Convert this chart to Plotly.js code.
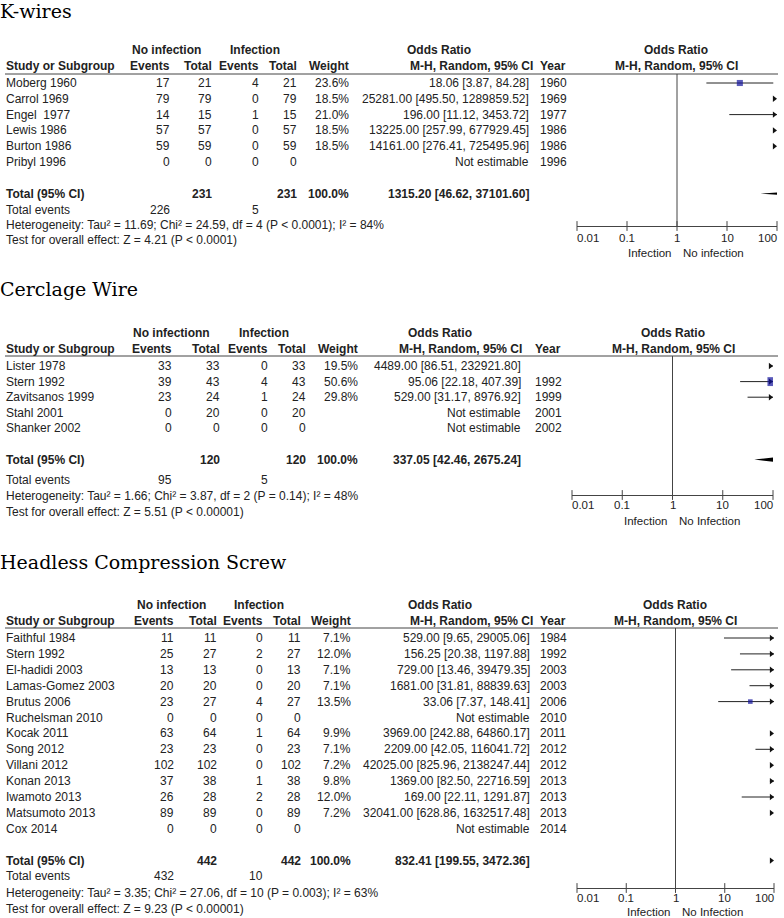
<!DOCTYPE html>
<html><head><meta charset="utf-8">
<script src="https://cdn.plot.ly/plotly-3.0.1.min.js"></script>
<style>html,body{margin:0;padding:0;background:#fff;}#chart{width:784px;height:918px;}</style>
</head><body><div id="chart"></div>
<script>
// ================= DATA =================
// --- K-wires ---
const kStudy  = ['Moberg 1960','Carrol 1969','Engel\u00a0 1977','Lewis 1986','Burton 1986','Pribyl 1996'];
const kEvNo   = [17,79,14,57,59,0];
const kTotNo  = [21,79,15,57,59,0];
const kEvInf  = [4,0,1,0,0,0];
const kTotInf = [21,79,15,57,59,0];
const kWeight = [23.6,18.5,21.0,18.5,18.5,null];
const kOR     = [18.06,25281.00,196.00,13225.00,14161.00,null];
const kLo     = [3.87,495.50,11.12,257.99,276.41,null];
const kHi     = [84.28,1289859.52,3453.72,677929.45,725495.96,null];
const kYear   = ['1960','1969','1977','1986','1986','1996'];
const kTotals = [231,231];           // total No infection, total Infection
const kTotalOR = [1315.20,46.62,37101.60];
const kTotalEvents = [226,5];
const kHet  = 'Heterogeneity: Tau\u00b2 = 11.69; Chi\u00b2 = 24.59, df = 4 (P < 0.0001); I\u00b2 = 84%';
const kTest = 'Test for overall effect: Z = 4.21 (P < 0.0001)';

// --- Cerclage Wire ---
const cStudy  = ['Lister 1978','Stern 1992','Zavitsanos 1999','Stahl 2001','Shanker 2002'];
const cEvNo   = [33,39,23,0,0];
const cTotNo  = [33,43,24,20,0];
const cEvInf  = [0,4,1,0,0];
const cTotInf = [33,43,24,20,0];
const cWeight = [19.5,50.6,29.8,null,null];
const cOR     = [4489.00,95.06,529.00,null,null];
const cLo     = [86.51,22.18,31.17,null,null];
const cHi     = [232921.80,407.39,8976.92,null,null];
const cYear   = ['','1992','1999','2001','2002'];
const cTotals = [120,120];
const cTotalOR = [337.05,42.46,2675.24];
const cTotalEvents = [95,5];
const cHet  = 'Heterogeneity: Tau\u00b2 = 1.66; Chi\u00b2 = 3.87, df = 2 (P = 0.14); I\u00b2 = 48%';
const cTest = 'Test for overall effect: Z = 5.51 (P < 0.00001)';

// --- Headless Compression Screw ---
const hStudy  = ['Faithful 1984','Stern 1992','El-hadidi 2003','Lamas-Gomez 2003','Brutus 2006','Ruchelsman 2010','Kocak 2011','Song 2012','Villani 2012','Konan 2013','Iwamoto 2013','Matsumoto 2013','Cox 2014'];
const hEvNo   = [11,25,13,20,23,0,63,23,102,37,26,89,0];
const hTotNo  = [11,27,13,20,27,0,64,23,102,38,28,89,0];
const hEvInf  = [0,2,0,0,4,0,1,0,0,1,2,0,0];
const hTotInf = [11,27,13,20,27,0,64,23,102,38,28,89,0];
const hWeight = [7.1,12.0,7.1,7.1,13.5,null,9.9,7.1,7.2,9.8,12.0,7.2,null];
const hOR     = [529.00,156.25,729.00,1681.00,33.06,null,3969.00,2209.00,42025.00,1369.00,169.00,32041.00,null];
const hLo     = [9.65,20.38,13.46,31.81,7.37,null,242.88,42.05,825.96,82.50,22.11,628.86,null];
const hHi     = [29005.06,1197.88,39479.35,88839.63,148.41,null,64860.17,116041.72,2138247.44,22716.59,1291.87,1632517.48,null];
const hYear   = ['1984','1992','2003','2003','2006','2010','2011','2012','2012','2013','2013','2013','2014'];
const hTotals = [442,442];
const hTotalOR = [832.41,199.55,3472.36];
const hTotalEvents = [432,10];
const hHet  = 'Heterogeneity: Tau\u00b2 = 3.35; Chi\u00b2 = 27.06, df = 10 (P = 0.003); I\u00b2 = 63%';
const hTest = 'Test for overall effect: Z = 9.23 (P < 0.00001)';

// Axis ticks
const tickVals = [0.01,0.1,1,10,100];
const tickText = ['0.01','0.1','1','10','100'];
const nullValue = 1;

// ================= LAYOUT HELPERS =================
const W = 784, H = 918;
const FONT = 'Liberation Sans, Arial, Helvetica, sans-serif';
const SERIF = 'DejaVu Serif, serif';
const TXT = '#222';
const LINE = '#444';
const BLUE = '#12129C';
const FS = 12;
const AXFS = 11.5;
const px = x => x / W;
const py = y => 1 - y / H;

const panels = [
  { title:'K-wires', study:kStudy, evNo:kEvNo, totNo:kTotNo, evInf:kEvInf, totInf:kTotInf, weight:kWeight,
    or:kOR, lo:kLo, hi:kHi, year:kYear, totals:kTotals, totalOR:kTotalOR, totalEvents:kTotalEvents,
    het:kHet, test:kTest, noInfHead:'No infection', infLabels:['Infection','No infection'],
    g:{titleY:11, h1:50, h2:66, rule:74, y0:83, dy:15.8, totalRow:7, axisY:226, evY:210, hetY:225, testY:240,
       tickY:238, labY:253, x0:577, x1:777,
       cEvNo:170, cTotNo:212, cEvInf:259, cTotInf:297, cWt:349, cOR:529, cORHead:533, cYear:540,
       noInfC:166, infC:255, orHeadC:439, rightHeadC:676} },
  { title:'Cerclage Wire', study:cStudy, evNo:cEvNo, totNo:cTotNo, evInf:cEvInf, totInf:cTotInf, weight:cWeight,
    or:cOR, lo:cLo, hi:cHi, year:cYear, totals:cTotals, totalOR:cTotalOR, totalEvents:cTotalEvents,
    het:cHet, test:cTest, noInfHead:'No infectionn', infLabels:['Infection','No Infection'],
    g:{titleY:289, h1:333, h2:349, rule:356, y0:366, dy:15.6, totalRow:6, axisY:495, evY:480, hetY:496, testY:512,
       tickY:505, labY:521, x0:572, x1:773,
       cEvNo:172, cTotNo:220, cEvInf:268, cTotInf:306, cWt:358, cOR:521, cORHead:522, cYear:535,
       noInfC:171, infC:264, orHeadC:440, rightHeadC:673} },
  { title:'Headless Compression Screw', study:hStudy, evNo:hEvNo, totNo:hTotNo, evInf:hEvInf, totInf:hTotInf, weight:hWeight,
    or:hOR, lo:hLo, hi:hHi, year:hYear, totals:hTotals, totalOR:hTotalOR, totalEvents:hTotalEvents,
    het:hHet, test:hTest, noInfHead:'No infection', infLabels:['Infection','No Infection'],
    g:{titleY:562, h1:605, h2:621, rule:628, y0:638, dy:15.9, totalRow:14, axisY:888, evY:876, hetY:893, testY:909,
       tickY:898, labY:912, x0:577, x1:774,
       cEvNo:174, cTotNo:217, cEvInf:263, cTotInf:301, cWt:351, cOR:530, cORHead:533, cYear:540,
       noInfC:171, infC:259, orHeadC:440, rightHeadC:675} }
];

const traces = [], annotations = [], shapes = [];
const layout = {
  width: W, height: H, margin:{l:0,r:0,t:0,b:0}, paper_bgcolor:'#fff', plot_bgcolor:'rgba(0,0,0,0)',
  showlegend:false, font:{family:FONT, size:FS, color:TXT}
};

function T(text, x, y, anchor, opts) {
  opts = opts || {};
  annotations.push({
    text: opts.bold ? '<b>' + text + '</b>' : text,
    xref:'paper', yref:'paper', x: px(x), y: py(y), xanchor: anchor, yanchor:'middle',
    showarrow:false, borderpad:0, borderwidth:0,
    font:{family: opts.family || FONT, size: opts.size || FS, color: opts.color || TXT}
  });
}
const fmtOR = (o,l,h) => o == null ? 'Not estimable' : o.toFixed(2) + ' [' + l.toFixed(2) + ', ' + h.toFixed(2) + ']';

panels.forEach((P, k) => {
  const G = P.g;
  const sfx = k === 0 ? '' : String(k + 1);
  const xa = 'x' + sfx, ya = 'y' + sfx;
  const rowY = r => G.y0 + r * G.dy;
  const n = P.study.length;

  // Title
  T(P.title, 0, G.titleY, 'left', {family:SERIF, size:19, color:'#000'});
  // Header row 1
  T(P.noInfHead, G.noInfC, G.h1, 'center', {bold:true});
  T('Infection', G.infC, G.h1, 'center', {bold:true});
  T('Odds Ratio', G.orHeadC, G.h1, 'center', {bold:true});
  T('Odds Ratio', G.rightHeadC, G.h1, 'center', {bold:true});
  // Header row 2
  T('Study or Subgroup', 6, G.h2, 'left', {bold:true});
  T('Events', G.cEvNo, G.h2, 'right', {bold:true});
  T('Total', G.cTotNo, G.h2, 'right', {bold:true});
  T('Events', G.cEvInf, G.h2, 'right', {bold:true});
  T('Total', G.cTotInf, G.h2, 'right', {bold:true});
  T('Weight', G.cWt, G.h2, 'right', {bold:true});
  T('M-H, Random, 95% CI', G.cORHead, G.h2, 'right', {bold:true});
  T('Year', G.cYear, G.h2, 'left', {bold:true});
  T('M-H, Random, 95% CI', G.rightHeadC, G.h2, 'center', {bold:true});
  // Rule under header
  shapes.push({type:'line', xref:'paper', yref:'paper', x0:px(5), x1:px(778), y0:py(G.rule), y1:py(G.rule),
               line:{color:LINE, width:1}});

  // Study rows
  for (let i = 0; i < n; i++) {
    const y = rowY(i);
    T(P.study[i], 6, y, 'left');
    T(String(P.evNo[i]), G.cEvNo, y, 'right');
    T(String(P.totNo[i]), G.cTotNo, y, 'right');
    T(String(P.evInf[i]), G.cEvInf, y, 'right');
    T(String(P.totInf[i]), G.cTotInf, y, 'right');
    if (P.weight[i] != null) T(P.weight[i].toFixed(1) + '%', G.cWt, y, 'right');
    T(fmtOR(P.or[i], P.lo[i], P.hi[i]), G.cOR, y, 'right');
    if (P.year[i]) T(P.year[i], G.cYear, y, 'left');
  }
  // Total row
  const ty = rowY(G.totalRow);
  T('Total (95% CI)', 6, ty, 'left', {bold:true});
  T(String(P.totals[0]), G.cTotNo, ty, 'right', {bold:true});
  T(String(P.totals[1]), G.cTotInf, ty, 'right', {bold:true});
  T('100.0%', G.cWt, ty, 'right', {bold:true});
  T(fmtOR(P.totalOR[0], P.totalOR[1], P.totalOR[2]), G.cOR, ty, 'right', {bold:true});
  // Footer
  T('Total events', 6, G.evY, 'left');
  T(String(P.totalEvents[0]), G.cEvNo, G.evY, 'right');
  T(String(P.totalEvents[1]), G.cEvInf, G.evY, 'right');
  T(P.het, 6, G.hetY, 'left');
  T(P.test, 6, G.testY, 'left');

  // Axes
  const yBottom = (G.axisY - G.y0) / G.dy, yTop = (G.rule - G.y0) / G.dy;
  layout['xaxis' + sfx] = {
    type:'log', range:[-2, 2], domain:[px(G.x0), px(G.x1)], anchor: ya,
    showline:true, linecolor:LINE, linewidth:1, ticks:'',
    showticklabels:false, showgrid:false, zeroline:false, fixedrange:true
  };
  layout['yaxis' + sfx] = {
    domain:[py(G.axisY), py(G.rule)], range:[yBottom, yTop],
    visible:false, fixedrange:true, anchor: xa
  };
  // Tick marks on the axis line
  traces.push({type:'scatter', mode:'markers', x:tickVals, y:tickVals.map(() => yBottom), xaxis:xa, yaxis:ya,
               cliponaxis:false, marker:{symbol:'line-ns', size:7, color:LINE, line:{width:1, color:LINE}}, hoverinfo:'skip'});
  // Tick labels through the axis (log coordinates)
  tickVals.forEach((v, j) => {
    annotations.push({text: tickText[j], xref: xa, yref:'paper', x: Math.log10(v), y: py(G.tickY),
      xanchor: j === 0 ? 'left' : (j === tickVals.length - 1 ? 'right' : 'center'), yanchor:'middle',
      showarrow:false, borderpad:0, borderwidth:0, font:{family:FONT, size:AXFS, color:TXT}});
  });
  annotations.push({text:P.infLabels[0], xref:xa, yref:'paper', x:Math.log10(nullValue), y:py(G.labY), xanchor:'right', xshift:-6,
    yanchor:'middle', showarrow:false, borderpad:0, borderwidth:0, font:{family:FONT, size:AXFS, color:TXT}});
  annotations.push({text:P.infLabels[1], xref:xa, yref:'paper', x:Math.log10(nullValue), y:py(G.labY), xanchor:'left', xshift:6,
    yanchor:'middle', showarrow:false, borderpad:0, borderwidth:0, font:{family:FONT, size:AXFS, color:TXT}});
  // Null line at OR = 1
  traces.push({type:'scatter', mode:'lines', x:[nullValue, nullValue], y:[yBottom, yTop], xaxis:xa, yaxis:ya,
               cliponaxis:false, line:{color:LINE, width:1}, hoverinfo:'skip'});

  // ---- Forest marks ----
  const axMax = tickVals[tickVals.length - 1];
  const pxPerDec = (G.x1 - G.x0) / 4;
  const arrowSize = 5.5;
  const arrowX = axMax * Math.pow(10, -(arrowSize / 2) / pxPerDec);

  const lx = [], ly = [], sx = [], sy = [], ss = [], axs = [], ays = [];
  for (let i = 0; i < n; i++) {
    if (P.or[i] == null) continue;
    lx.push(P.lo[i], P.hi[i], null); ly.push(i, i, null);
    sx.push(P.or[i]); sy.push(i); ss.push(1.25 * Math.sqrt(P.weight[i]));
    if (P.hi[i] > axMax) { axs.push(arrowX); ays.push(i); }
  }
  // CI lines
  traces.push({type:'scatter', mode:'lines', x:lx, y:ly, xaxis:xa, yaxis:ya, connectgaps:false,
               line:{color:'#222', width:1}, hoverinfo:'skip'});
  // Total diamond
  const tr = G.totalRow, hh = 5 / G.dy;
  const [tOR, tLo, tHi] = P.totalOR;
  traces.push({type:'scatter', mode:'lines', x:[tLo, tOR, tHi, tOR, tLo], y:[tr, tr - hh, tr, tr + hh, tr],
               fill:'toself', fillcolor:'#000', line:{color:'#000', width:0}, xaxis:xa, yaxis:ya, hoverinfo:'skip'});
  if (tLo > axMax) { axs.push(arrowX); ays.push(tr); }
  // Arrowheads at the axis end
  traces.push({type:'scatter', mode:'markers', x:axs, y:ays, xaxis:xa, yaxis:ya, cliponaxis:false,
               marker:{symbol:'triangle-right', size:arrowSize, color:'#111', line:{width:0}}, hoverinfo:'skip'});
  // Study squares
  traces.push({type:'scatter', mode:'markers', x:sx, y:sy, xaxis:xa, yaxis:ya,
               marker:{symbol:'square', size:ss, color:BLUE, line:{width:0}}, hoverinfo:'skip'});
});

layout.annotations = annotations;
layout.shapes = shapes;
Plotly.newPlot('chart', traces, layout, {displayModeBar:false, staticPlot:true});
</script>
</body></html>
